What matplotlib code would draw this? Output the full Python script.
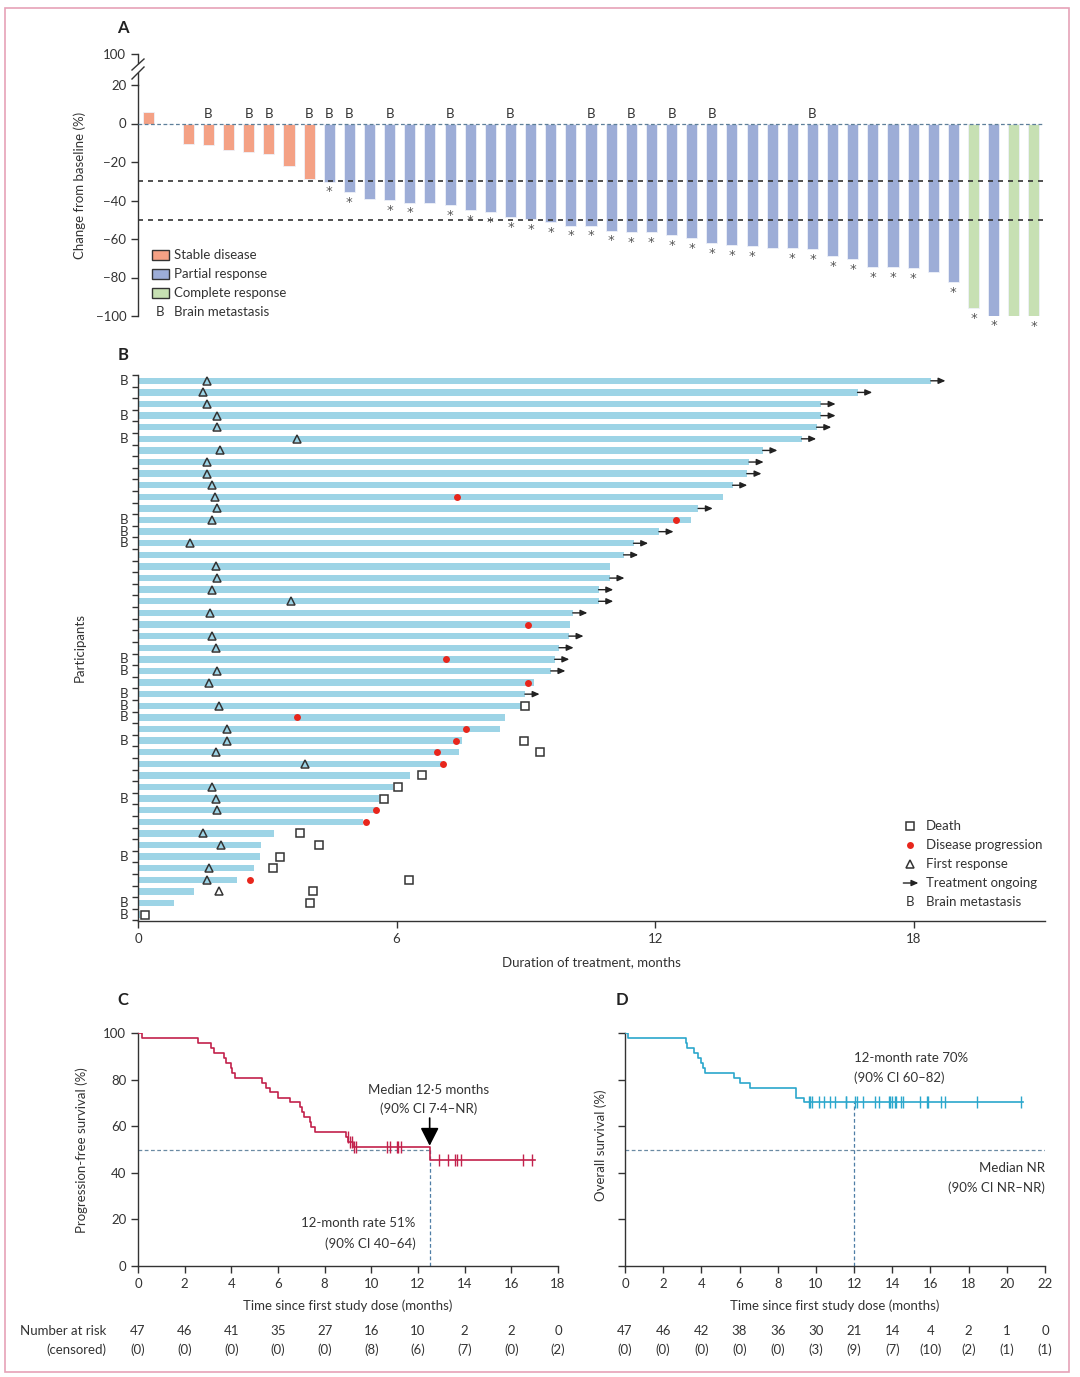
import matplotlib
matplotlib.use('Agg')
import matplotlib.pyplot as plt
import numpy as np
from matplotlib.lines import Line2D
from matplotlib.patches import Rectangle

# ---------------- DATA ----------------
# Panel A: best change from baseline (%)
waterfall_values = [6.2, -0.5, -10.7, -11.3, -13.7, -14.9, -15.8, -22.2, -28.9,
                    -30.2, -35.5, -39.3, -39.7, -41.1, -41.1, -42.3, -45.1, -45.9,
                    -48.5, -49.7, -51.4, -53.0, -53.0, -55.6, -56.5, -56.5, -58.1,
                    -59.4, -62.0, -63.3, -63.8, -64.6, -64.8, -65.3, -69.0, -70.4,
                    -74.4, -74.5, -75.2, -77.3, -82.3, -96.0, -99.8, -100.0, -100.0]
waterfall_response = ['SD'] * 9 + ['PR'] * 32 + ['CR', 'PR', 'CR', 'CR']
waterfall_brain = [4, 6, 7, 9, 10, 11, 13, 16, 19, 23, 25, 27, 29, 34]        # 1-based bars
waterfall_nostar = [1, 2, 3, 4, 5, 6, 7, 8, 9, 12, 15, 32, 40, 44]             # 1-based bars

# Panel B: swimmer plot (months)
duration = [18.4, 16.7, 15.85, 15.85, 15.75, 15.4, 14.5, 14.18, 14.13, 13.8, 13.57,
            13.0, 12.83, 12.09, 11.5, 11.27, 10.95, 10.95, 10.69, 10.69, 10.09, 10.03,
            10.0, 9.77, 9.67, 9.58, 9.2, 8.98, 8.9, 8.52, 8.39, 7.53, 7.44, 7.06, 6.31,
            5.92, 5.6, 5.57, 5.22, 3.16, 2.86, 2.83, 2.7, 2.3, 1.3, 0.83, 0.05]
ongoing_rows = [1, 2, 3, 4, 5, 6, 7, 8, 9, 10, 12, 14, 15, 16, 18, 19, 20, 21, 23,
                24, 25, 26, 28]
response_rows = [1, 2, 3, 4, 5, 6, 7, 8, 9, 10, 11, 12, 13, 15, 17, 18, 19, 20, 21,
                 23, 24, 26, 27, 29, 31, 32, 33, 34, 36, 37, 38, 40, 41, 43, 44, 45]
response_times = [1.6, 1.5, 1.6, 1.83, 1.83, 3.69, 1.9, 1.6, 1.6, 1.71, 1.78, 1.83,
                  1.71, 1.21, 1.8, 1.83, 1.71, 3.55, 1.66, 1.71, 1.82, 1.84, 1.65,
                  1.88, 2.07, 2.07, 1.82, 3.87, 1.72, 1.82, 1.84, 1.51, 1.92, 1.65,
                  1.6, 1.88]
progression_rows = [11, 13, 22, 25, 27, 30, 31, 32, 33, 34, 38, 39, 44]
progression_times = [7.4, 12.48, 9.06, 7.15, 9.06, 3.69, 7.61, 7.38, 6.95, 7.08,
                     5.53, 5.3, 2.6]
death_rows = [29, 32, 33, 35, 36, 37, 40, 41, 42, 43, 44, 45, 46, 47]
death_times = [8.98, 8.96, 9.34, 6.58, 6.03, 5.7, 3.76, 4.2, 3.3, 3.13, 6.3, 4.06,
               4.0, 0.17]
brain_rows = [1, 4, 6, 13, 14, 15, 25, 26, 28, 29, 30, 32, 37, 42, 46, 47]

# Panel C: progression-free survival
pfs_times = [0, 0.15, 2.57, 3.15, 3.25, 3.68, 3.77, 4.0, 4.05, 4.15, 5.31, 5.5, 5.65,
             6.0, 6.52, 6.95, 7.02, 7.12, 7.37, 7.42, 7.6, 8.93, 9.02, 9.22, 12.5]
pfs_surv = [100, 97.9, 95.7, 93.6, 91.5, 89.4, 87.2, 85.1, 83.0, 80.9, 78.7, 76.6,
            74.5, 72.3, 70.2, 68.1, 66.0, 63.8, 61.7, 59.6, 57.4, 55.3, 53.2, 50.9, 45.6]
pfs_end = 17.0
pfs_censor = [9.0, 9.08, 9.16, 9.25, 9.36, 10.68, 10.79, 11.08, 11.16, 11.28, 12.9,
              13.3, 13.59, 13.67, 13.85, 16.5, 16.9]
pfs_risk_times = [0, 2, 4, 6, 8, 10, 12, 14, 16, 18]
pfs_at_risk = [47, 46, 41, 35, 27, 16, 10, 2, 2, 0]
pfs_censored = [0, 0, 0, 0, 0, 8, 6, 7, 0, 2]

# Panel D: overall survival
os_times = [0, 0.17, 3.17, 3.25, 3.63, 3.8, 4.0, 4.08, 4.19, 5.69, 6.04, 6.56, 8.97, 9.35]
os_surv = [100, 97.9, 95.7, 93.6, 91.5, 89.4, 87.2, 85.1, 83.0, 80.9, 78.7, 76.6, 72.3, 70.2]
os_end = 20.86
os_censor = [9.63, 9.70, 9.77, 10.15, 10.43, 10.75, 10.99, 11.55, 11.58, 12.04, 12.14,
             12.46, 13.08, 13.29, 13.82, 13.89, 13.99, 14.13, 14.2, 14.45, 14.55,
             15.46, 15.81, 15.88, 16.57, 16.75, 18.42, 20.76]
os_risk_times = [0, 2, 4, 6, 8, 10, 12, 14, 16, 18, 20, 22]
os_at_risk = [47, 46, 42, 38, 36, 30, 21, 14, 4, 2, 1, 0]
os_censored = [0, 0, 0, 0, 0, 3, 9, 7, 10, 2, 1, 1]

# ---------------- STYLE ----------------
plt.rcParams['font.family'] = ['Lato', 'DejaVu Sans']
plt.rcParams['font.size'] = 9
TXT = '#333333'
for k in ['axes.edgecolor', 'xtick.color', 'ytick.color', 'text.color', 'axes.labelcolor']:
    plt.rcParams[k] = TXT
plt.rcParams['axes.linewidth'] = 1.0

W, H = 1080, 1377
fig = plt.figure(figsize=(W / 100, H / 100), dpi=100)


def pos(l, t, r, b):
    return [l / W, 1 - b / H, (r - l) / W, (b - t) / H]


def fx(px):
    return px / W


def fy(py):
    return 1 - py / H


# outer frame
fig.add_artist(Rectangle((fx(5), fy(1372)), (1069 - 5) / W, (1372 - 8) / H,
                         transform=fig.transFigure, fill=False, ec='#e6a2b8', lw=1.2))

# ---------------- PANEL A ----------------
col = {'SD': '#f4a185', 'PR': '#9dadd7', 'CR': '#c7e0b3'}
axA = fig.add_axes(pos(138, 85, 1043, 316))
xA = np.arange(len(waterfall_values))
axA.bar(xA, waterfall_values, width=0.55, color=[col[r] for r in waterfall_response],
        edgecolor='#eef1f9', linewidth=0.6, zorder=2)
axA.set_xlim(-0.5, 44.45)
axA.set_ylim(-100, 20)
axA.axhline(0, color='#5d7f99', ls=(0, (3, 2)), lw=0.9, zorder=3)
axA.axhline(-30, color='#333333', ls=(0, (3, 3)), lw=1.2, zorder=3)
axA.axhline(-50, color='#333333', ls=(0, (3, 3)), lw=1.2, zorder=3)
for s in ['top', 'right', 'bottom']:
    axA.spines[s].set_visible(False)
axA.set_xticks([])
axA.set_yticks([20, 0, -20, -40, -60, -80, -100])
axA.tick_params(axis='y', direction='out', length=5, width=1, labelsize=9.5)
for b in waterfall_brain:
    axA.text(b - 1, 5, 'B', ha='center', va='center', fontsize=9.5)
for i, v in enumerate(waterfall_values):
    if (i + 1) not in waterfall_nostar:
        axA.text(i, v - 7.2, '*', ha='center', va='baseline', fontsize=9.5,
                 color='#555555', family=['DejaVu Sans'])

# legend A
leg_items = [('SD', 'Stable disease', 255), ('PR', 'Partial response', 274),
             ('CR', 'Complete response', 293)]
for key, lab, py in leg_items:
    axA.add_patch(Rectangle(((152 - 138) / 905, (316 - py) / 231 - 0.0238), 17 / 905, 0.0476,
                            transform=axA.transAxes, fc=col[key], ec='#333333', lw=1.0,
                            clip_on=False))
    axA.text((174 - 138) / 905, (316 - py) / 231, lab, transform=axA.transAxes,
             ha='left', va='center', fontsize=9.5)
axA.text((160 - 138) / 905, (316 - 312) / 231, 'B', transform=axA.transAxes,
         ha='center', va='center', fontsize=9.5)
axA.text((174 - 138) / 905, (316 - 312) / 231, 'Brain metastasis', transform=axA.transAxes,
         ha='left', va='center', fontsize=9.5)

# broken axis top part
axA2 = fig.add_axes(pos(138, 54, 1043, 63))
axA2.set_ylim(95.5, 100)
axA2.set_xlim(0, 1)
for s in ['top', 'right', 'bottom']:
    axA2.spines[s].set_visible(False)
axA2.patch.set_alpha(0)
axA2.set_xticks([])
axA2.set_yticks([100])
axA2.tick_params(axis='y', direction='out', length=5, width=1, labelsize=9.5)
fig.add_artist(Line2D([fx(138), fx(138)], [fy(85), fy(73)], color=TXT, lw=1.0))
fig.add_artist(Line2D([fx(132), fx(144)], [fy(70), fy(59)], color=TXT, lw=1.0))
fig.add_artist(Line2D([fx(132), fx(144)], [fy(79), fy(67)], color=TXT, lw=1.0))
fig.text(fx(80), fy(185), 'Change from baseline (%)', rotation=90, ha='center',
         va='center', fontsize=9.5)

# ---------------- PANEL B ----------------
axB = fig.add_axes(pos(138, 375, 1045, 921))
rows = np.arange(1, len(duration) + 1)
axB.barh(rows, duration, height=0.55, color='#9dd4e6', edgecolor='none', zorder=1)
axB.set_xlim(0, 21.05)
axB.set_ylim(47.55, 0.5)
for s in ['top', 'right']:
    axB.spines[s].set_visible(False)
axB.set_xticks([0, 6, 12, 18])
axB.set_yticks(np.arange(0.5, 47.6, 1.0))
axB.set_yticklabels([])
axB.tick_params(axis='y', direction='out', length=4, width=1)
axB.tick_params(axis='x', direction='out', length=5, width=1, labelsize=9.5)
arrow_kw = dict(arrowstyle='-|>,head_length=0.45,head_width=0.2', color='#222222',
                lw=1.0, shrinkA=0, shrinkB=0, mutation_scale=9)
for r in ongoing_rows:
    axB.annotate('', xy=(duration[r - 1] + 0.34, r), xytext=(duration[r - 1], r),
                 arrowprops=arrow_kw, zorder=3)
axB.plot(response_times, response_rows, ls='none', marker='^', ms=5.2, mfc='none',
         mec='#333333', mew=1.1, zorder=4)
axB.plot(progression_times, progression_rows, ls='none', marker='o', ms=5, mfc='#e8261c',
         mec='none', zorder=4)
axB.plot(death_times, death_rows, ls='none', marker='s', ms=5.5, mfc='white',
         mec='#333333', mew=1.1, zorder=4)
for r in brain_rows:
    axB.text(-0.22, r, 'B', ha='right', va='center', fontsize=9.5, clip_on=False)
axB.set_xlabel('Duration of treatment, months', fontsize=9.5, labelpad=8)
fig.text(fx(80), fy(648), 'Participants', rotation=90, ha='center', va='center',
         fontsize=9.5)

# legend B
lx_m = (910 - 138) / 43.1
lx_t = (926 - 138) / 43.1
leg_rows = [(826 - 381) / 11.6 + 1 + k * (19 / 11.6) for k in range(5)]
axB.plot([lx_m], [leg_rows[0]], ls='none', marker='s', ms=5.5, mfc='white',
         mec='#333333', mew=1.1)
axB.plot([lx_m], [leg_rows[1]], ls='none', marker='o', ms=5, mfc='#e8261c', mec='none')
axB.plot([lx_m], [leg_rows[2]], ls='none', marker='^', ms=5.2, mfc='none',
         mec='#333333', mew=1.1)
axB.annotate('', xy=(lx_m + 0.2, leg_rows[3]), xytext=(lx_m - 0.15, leg_rows[3]),
             arrowprops=arrow_kw)
axB.text(lx_m, leg_rows[4], 'B', ha='center', va='center', fontsize=9.5)
for lab, yy in zip(['Death', 'Disease progression', 'First response', 'Treatment ongoing',
                    'Brain metastasis'], leg_rows):
    axB.text(lx_t, yy, lab, ha='left', va='center', fontsize=9.5)


# ---------------- KM helper ----------------
def km(ax, times, surv, end, cens, color):
    tt = list(times) + [end]
    ss = list(surv) + [surv[-1]]
    ax.step(tt, ss, where='post', color=color, lw=1.2, zorder=3)
    lv = [surv[np.searchsorted(times, c, side='right') - 1] for c in cens]
    ax.plot(cens, lv, ls='none', marker='|', ms=8, mew=1.0, color=color, zorder=3)


def style_km(ax, xmax, xstep):
    for s in ['top', 'right']:
        ax.spines[s].set_visible(False)
    ax.set_xlim(0, xmax)
    ax.set_ylim(0, 100)
    ax.set_xticks(np.arange(0, xmax + 0.1, xstep))
    ax.set_yticks(np.arange(0, 101, 20))
    ax.tick_params(direction='out', length=5, width=1, labelsize=9.5)


# ---------------- PANEL C ----------------
axC = fig.add_axes(pos(138, 1033, 558, 1266))
style_km(axC, 18, 2)
dash_col = '#4f7ea6'
axC.plot([0, 12.5], [50, 50], color='#6a8aa3', ls=(0, (3, 2)), lw=0.9, zorder=1)
axC.plot([12.5, 12.5], [0, 50], color=dash_col, ls=(0, (3, 2)), lw=0.9, zorder=1)
km(axC, pfs_times, pfs_surv, pfs_end, pfs_censor, '#c2214c')
axC.annotate('', xy=(12.5, 51.6), xytext=(12.5, 63.5),
             arrowprops=dict(arrowstyle='-|>,head_length=0.55,head_width=0.28',
                             color='black', lw=1.2, shrinkA=0, shrinkB=0,
                             mutation_scale=20))
axC.text(12.45, 75.6, 'Median 12·5 months', ha='center', va='center', fontsize=9.5)
axC.text(12.45, 67.3, '(90% CI 7·4–NR)', ha='center', va='center', fontsize=9.5)
axC.text(11.9, 18.3, '12-month rate 51%', ha='right', va='center', fontsize=9.5)
axC.text(11.9, 9.7, '(90% CI 40–64)', ha='right', va='center', fontsize=9.5)
axC.set_xlabel('Time since first study dose (months)', fontsize=9.5, labelpad=7)
fig.text(fx(82), fy(1150), 'Progression-free survival (%)', rotation=90, ha='center',
         va='center', fontsize=9.5)

# ---------------- PANEL D ----------------
axD = fig.add_axes(pos(625, 1033, 1045, 1266))
style_km(axD, 22, 2)
axD.set_yticklabels([])
axD.plot([0, 22], [50, 50], color='#6a8aa3', ls=(0, (3, 2)), lw=0.9, zorder=1)
axD.plot([12, 12], [0, 70.2], color=dash_col, ls=(0, (3, 2)), lw=0.9, zorder=1)
km(axD, os_times, os_surv, os_end, os_censor, '#2ba7cc')
axD.text(11.97, 89.3, '12-month rate 70%', ha='left', va='center', fontsize=9.5)
axD.text(11.97, 80.9, '(90% CI 60–82)', ha='left', va='center', fontsize=9.5)
axD.text(22.0, 42.0, 'Median NR', ha='right', va='center', fontsize=9.5)
axD.text(22.0, 33.7, '(90% CI NR–NR)', ha='right', va='center', fontsize=9.5)
axD.set_xlabel('Time since first study dose (months)', fontsize=9.5, labelpad=7)
fig.text(fx(601), fy(1145), 'Overall survival (%)', rotation=90, ha='center',
         va='center', fontsize=9.5)

# ---------------- NUMBER AT RISK ----------------
fig.text(fx(106), fy(1331), 'Number at risk', ha='right', va='center', fontsize=9.5)
fig.text(fx(106), fy(1350), '(censored)', ha='right', va='center', fontsize=9.5)
for t, n, c in zip(pfs_risk_times, pfs_at_risk, pfs_censored):
    px = 138 + t * (558 - 138) / 18
    fig.text(fx(px), fy(1331), str(n), ha='center', va='center', fontsize=9.5)
    fig.text(fx(px), fy(1350), '(%d)' % c, ha='center', va='center', fontsize=9.5)
for t, n, c in zip(os_risk_times, os_at_risk, os_censored):
    px = 625 + t * (1045 - 625) / 22
    fig.text(fx(px), fy(1331), str(n), ha='center', va='center', fontsize=9.5)
    fig.text(fx(px), fy(1350), '(%d)' % c, ha='center', va='center', fontsize=9.5)

# ---------------- PANEL LETTERS ----------------
for lab, px, py in [('A', 123, 28), ('B', 123, 355), ('C', 123, 1000), ('D', 622, 1000)]:
    fig.text(fx(px), fy(py), lab, ha='center', va='center', fontsize=12, fontweight='bold',
             color='#222222')

fig.savefig('out.png', dpi=100)
